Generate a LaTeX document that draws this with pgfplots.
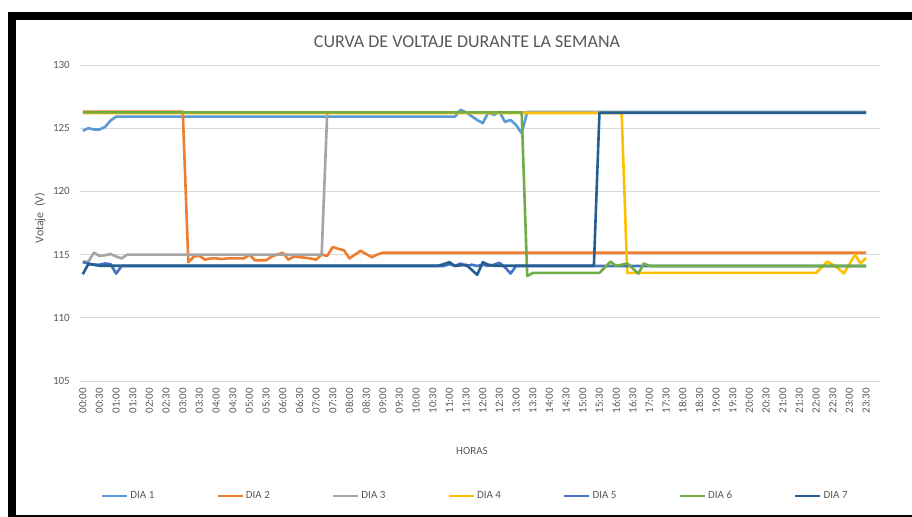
\documentclass[border=0pt]{standalone}
\usepackage{pgfplots}
\pgfplotsset{compat=1.18}
\usepackage{pgfplotstable}
\usepackage{fontspec}
\setmainfont{Carlito}
\definecolor{c1}{HTML}{5B9BD5}
\definecolor{c2}{HTML}{ED7D31}
\definecolor{c3}{HTML}{A5A5A5}
\definecolor{c4}{HTML}{FFC000}
\definecolor{c5}{HTML}{4472C4}
\definecolor{c6}{HTML}{70AD47}
\definecolor{c7}{HTML}{255E91}
\definecolor{txt}{HTML}{595959}
\definecolor{gridc}{HTML}{D9D9D9}

\pgfplotstableread{
d1 d2 d3 d4 d5 d6 d7
124.8  126.3  114.45 126.2  114.4  126.25 113.45
125.0  126.3  114.45 126.2  114.3  126.25 114.25
124.9  126.3  115.15 126.2  114.2  126.25 114.2
124.9  126.3  114.9  126.2  114.2  126.25 114.12
125.1  126.3  114.95 126.2  114.3  126.25 114.12
125.6  126.3  115.05 126.2  114.25 126.25 114.12
125.92 126.3  114.85 126.2  113.5  126.25 114.12
125.92 126.3  114.7  126.2  114.1  126.25 114.12
125.92 126.3  115.0  126.2  114.1  126.25 114.12
125.92 126.3  115.0  126.2  114.1  126.25 114.12
125.92 126.3  115.0  126.2  114.1  126.25 114.12
125.92 126.3  115.0  126.2  114.1  126.25 114.12
125.92 126.3  115.0  126.2  114.1  126.25 114.12
125.92 126.3  115.0  126.2  114.1  126.25 114.12
125.92 126.3  115.0  126.2  114.1  126.25 114.12
125.92 126.3  115.0  126.2  114.1  126.25 114.12
125.92 126.3  115.0  126.2  114.1  126.25 114.12
125.92 126.3  115.0  126.2  114.1  126.25 114.12
125.92 126.3  115.0  126.2  114.1  126.25 114.12
125.92 114.4  115.0  126.2  114.1  126.25 114.12
125.92 114.85 115.0  126.2  114.1  126.25 114.12
125.92 114.9  115.0  126.2  114.1  126.25 114.12
125.92 114.6  115.0  126.2  114.1  126.25 114.12
125.92 114.7  115.0  126.2  114.1  126.25 114.12
125.92 114.7  115.0  126.2  114.1  126.25 114.12
125.92 114.65 115.0  126.2  114.1  126.25 114.12
125.92 114.7  115.0  126.2  114.1  126.25 114.12
125.92 114.7  115.0  126.2  114.1  126.25 114.12
125.92 114.7  115.0  126.2  114.1  126.25 114.12
125.92 114.7  115.0  126.2  114.1  126.25 114.12
125.92 115.0  115.0  126.2  114.1  126.25 114.12
125.92 114.55 115.0  126.2  114.1  126.25 114.12
125.92 114.55 115.0  126.2  114.1  126.25 114.12
125.92 114.55 115.0  126.2  114.1  126.25 114.12
125.92 114.85 115.0  126.2  114.1  126.25 114.12
125.92 115.0  115.0  126.2  114.1  126.25 114.12
125.92 115.15 115.0  126.2  114.1  126.25 114.12
125.92 114.6  115.0  126.2  114.1  126.25 114.12
125.92 114.85 115.0  126.2  114.1  126.25 114.12
125.92 114.8  115.0  126.2  114.1  126.25 114.12
125.92 114.75 115.0  126.2  114.1  126.25 114.12
125.92 114.7  115.0  126.2  114.1  126.25 114.12
125.92 114.6  115.0  126.2  114.1  126.25 114.12
125.92 115.0  115.0  126.2  114.1  126.25 114.12
125.92 114.9  126.25 126.2  114.1  126.25 114.12
125.92 115.6  126.25 126.2  114.1  126.25 114.12
125.92 115.45 126.25 126.2  114.1  126.25 114.12
125.92 115.35 126.25 126.2  114.1  126.25 114.12
125.92 114.7  126.25 126.2  114.1  126.25 114.12
125.92 115.0  126.25 126.2  114.1  126.25 114.12
125.92 115.3  126.25 126.2  114.1  126.25 114.12
125.92 115.05 126.25 126.2  114.1  126.25 114.12
125.92 114.8  126.25 126.2  114.1  126.25 114.12
125.92 115.0  126.25 126.2  114.1  126.25 114.12
125.92 115.15 126.25 126.2  114.1  126.25 114.12
125.92 115.15 126.25 126.2  114.1  126.25 114.12
125.92 115.15 126.25 126.2  114.1  126.25 114.12
125.92 115.15 126.25 126.2  114.1  126.25 114.12
125.92 115.15 126.25 126.2  114.1  126.25 114.12
125.92 115.15 126.25 126.2  114.1  126.25 114.12
125.92 115.15 126.25 126.2  114.1  126.25 114.12
125.92 115.15 126.25 126.2  114.1  126.25 114.12
125.92 115.15 126.25 126.2  114.1  126.25 114.12
125.92 115.15 126.25 126.2  114.1  126.25 114.12
125.92 115.15 126.25 126.2  114.1  126.25 114.12
125.92 115.15 126.25 126.2  114.1  126.25 114.25
125.92 115.15 126.25 126.2  114.25 126.25 114.4
125.92 115.15 126.25 126.2  114.1  126.25 114.1
126.45 115.15 126.25 126.2  114.3  126.25 114.15
126.25 115.15 126.25 126.2  114.1  126.25 114.2
125.95 115.15 126.25 126.2  114.2  126.25 113.8
125.65 115.15 126.25 126.2  114.1  126.25 113.4
125.4  115.15 126.25 126.2  114.2  126.25 114.4
126.25 115.15 126.25 126.2  114.1  126.25 114.2
126.05 115.15 126.25 126.2  114.2  126.25 114.12
126.3  115.15 126.25 126.2  114.35 126.25 114.12
125.5  115.15 126.25 126.2  114.0  126.25 114.12
125.65 115.15 126.25 126.2  113.5  126.25 114.12
125.25 115.15 126.25 126.2  114.1  126.25 114.12
124.6  115.15 126.25 126.2  114.1  126.25 114.12
126.28 115.15 126.25 126.2  114.1  113.3  114.12
126.28 115.15 126.25 126.2  114.1  113.55 114.12
126.28 115.15 126.25 126.2  114.1  113.55 114.12
126.28 115.15 126.25 126.2  114.1  113.55 114.12
126.28 115.15 126.25 126.2  114.1  113.55 114.12
126.28 115.15 126.25 126.2  114.1  113.55 114.12
126.28 115.15 126.25 126.2  114.1  113.55 114.12
126.28 115.15 126.25 126.2  114.1  113.55 114.12
126.28 115.15 126.25 126.2  114.1  113.55 114.12
126.28 115.15 126.25 126.2  114.1  113.55 114.12
126.28 115.15 126.25 126.2  114.1  113.55 114.12
126.28 115.15 126.25 126.2  114.1  113.55 114.12
126.28 115.15 126.25 126.2  114.1  113.55 114.12
126.28 115.15 126.25 126.2  114.1  113.55 126.22
126.28 115.15 126.25 126.2  114.1  114.0  126.22
126.28 115.15 126.25 126.2  114.1  114.45 126.22
126.28 115.15 126.25 126.2  114.1  114.1  126.22
126.28 115.15 126.25 126.2  114.1  114.2  126.22
126.28 115.15 126.25 113.55 114.1  114.3  126.22
126.28 115.15 126.25 113.55 114.1  113.9  126.22
126.28 115.15 126.25 113.55 114.1  113.5  126.22
126.28 115.15 126.25 113.55 114.1  114.3  126.22
126.28 115.15 126.25 113.55 114.1  114.1  126.22
126.28 115.15 126.25 113.55 114.1  114.1  126.22
126.28 115.15 126.25 113.55 114.1  114.1  126.22
126.28 115.15 126.25 113.55 114.1  114.1  126.22
126.28 115.15 126.25 113.55 114.1  114.1  126.22
126.28 115.15 126.25 113.55 114.1  114.1  126.22
126.28 115.15 126.25 113.55 114.1  114.1  126.22
126.28 115.15 126.25 113.55 114.1  114.1  126.22
126.28 115.15 126.25 113.55 114.1  114.1  126.22
126.28 115.15 126.25 113.55 114.1  114.1  126.22
126.28 115.15 126.25 113.55 114.1  114.1  126.22
126.28 115.15 126.25 113.55 114.1  114.1  126.22
126.28 115.15 126.25 113.55 114.1  114.1  126.22
126.28 115.15 126.25 113.55 114.1  114.1  126.22
126.28 115.15 126.25 113.55 114.1  114.1  126.22
126.28 115.15 126.25 113.55 114.1  114.1  126.22
126.28 115.15 126.25 113.55 114.1  114.1  126.22
126.28 115.15 126.25 113.55 114.1  114.1  126.22
126.28 115.15 126.25 113.55 114.1  114.1  126.22
126.28 115.15 126.25 113.55 114.1  114.1  126.22
126.28 115.15 126.25 113.55 114.1  114.1  126.22
126.28 115.15 126.25 113.55 114.1  114.1  126.22
126.28 115.15 126.25 113.55 114.1  114.1  126.22
126.28 115.15 126.25 113.55 114.1  114.1  126.22
126.28 115.15 126.25 113.55 114.1  114.1  126.22
126.28 115.15 126.25 113.55 114.1  114.1  126.22
126.28 115.15 126.25 113.55 114.1  114.1  126.22
126.28 115.15 126.25 113.55 114.1  114.1  126.22
126.28 115.15 126.25 113.55 114.1  114.1  126.22
126.28 115.15 126.25 113.55 114.1  114.1  126.22
126.28 115.15 126.25 113.55 114.1  114.1  126.22
126.28 115.15 126.25 114.0  114.1  114.1  126.22
126.28 115.15 126.25 114.45 114.1  114.1  126.22
126.28 115.15 126.25 114.2  114.1  114.1  126.22
126.28 115.15 126.25 113.9  114.1  114.1  126.22
126.28 115.15 126.25 113.5  114.1  114.1  126.22
126.28 115.15 126.25 114.25 114.1  114.1  126.22
126.28 115.15 126.25 115.0  114.1  114.1  126.22
126.28 115.15 126.25 114.3  114.1  114.1  126.22
126.28 115.15 126.25 114.75 114.1  114.1  126.22
}\data

\begin{document}
\begin{tikzpicture}
\useasboundingbox (0,0) rectangle (912bp,-517bp);
\fill[white] (0,0) rectangle (912bp,-517bp);
\fill[black] (8bp,-12bp) rectangle (16bp,-517bp);
\fill[black] (8bp,-12bp) rectangle (912bp,-19.5bp);
\fill[black] (8bp,-514.5bp) rectangle (912bp,-517bp);
\node[text=txt, font=\fontsize{18bp}{21bp}\selectfont] at (467bp,-42bp) {CURVA DE VOLTAJE DURANTE LA SEMANA};
\begin{axis}[
  at={(80bp,-381bp)}, anchor=south west,
  scale only axis, width=800bp, height=316bp,
  xmin=-0.5, xmax=143.5, ymin=105, ymax=130,
  ytick={105,110,...,130},
  xtick={0,3,...,141},
  xticklabels={00:00,00:30,01:00,01:30,02:00,02:30,03:00,03:30,04:00,04:30,05:00,05:30,06:00,06:30,07:00,07:30,08:00,08:30,09:00,09:30,10:00,10:30,11:00,11:30,12:00,12:30,13:00,13:30,14:00,14:30,15:00,15:30,16:00,16:30,17:00,17:30,18:00,18:30,19:00,19:30,20:00,20:30,21:00,21:30,22:00,22:30,23:00,23:30},
  axis line style={draw=none},
  major tick length=0pt,
  ymajorgrids,
  grid style={draw=gridc, line width=0.8bp},
  /pgf/number format/assume math mode=true,
  tick label style={text=txt, font=\fontsize{11bp}{13bp}\selectfont, inner sep=0pt},
  yticklabel style={anchor=east},
  xticklabel style={rotate=90, anchor=east},
  xticklabel shift=7bp,
  yticklabel shift=10bp,
  xlabel={HORAS},
  xlabel style={at={(axis description cs:0.49,-0.2215)}, anchor=center, text=txt, font=\fontsize{11bp}{13bp}\selectfont},
  ylabel={Votaje~~(V)},
  ylabel style={at={(axis description cs:-0.05,0.516)}, anchor=center, text=txt, font=\fontsize{12bp}{14bp}\selectfont},
  legend style={at={(0.494,-0.364)}, anchor=center, draw=none, fill=none,
    font=\fontsize{11bp}{13bp}\selectfont, text=txt,
    /tikz/every even column/.append style={column sep=60bp}},
  legend columns=7,
  legend image code/.code={\draw[#1] (0bp,0bp) -- (25bp,0bp);},
  every axis plot/.append style={line width=2.6bp, line join=round, mark=none},
]
\addplot[c1] table[x expr=\coordindex, y=d1] {\data};
\addplot[c2] table[x expr=\coordindex, y=d2] {\data};
\addplot[c3] table[x expr=\coordindex, y=d3] {\data};
\addplot[c4] table[x expr=\coordindex, y=d4] {\data};
\addplot[c5] table[x expr=\coordindex, y=d5] {\data};
\addplot[c6] table[x expr=\coordindex, y=d6] {\data};
\addplot[c7] table[x expr=\coordindex, y=d7] {\data};
\legend{DIA 1,DIA 2,DIA 3,DIA 4,DIA 5,DIA 6,DIA 7}
\end{axis}
\end{tikzpicture}
\end{document}
